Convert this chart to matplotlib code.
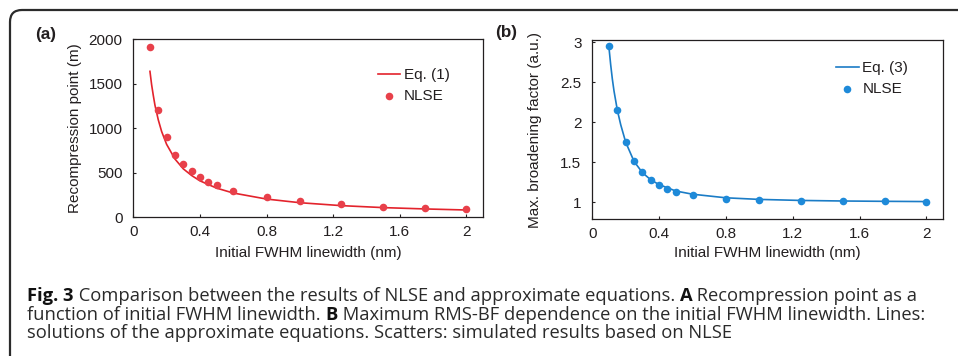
import matplotlib
matplotlib.use("Agg")
import matplotlib.pyplot as plt
from matplotlib.patches import FancyBboxPatch

# ---------------- data ----------------
linewidth_pts = [0.1, 0.15, 0.2, 0.25, 0.3, 0.35, 0.4, 0.45, 0.5, 0.6, 0.8, 1.0, 1.25, 1.5, 1.75, 2.0]
recomp_nlse = [1910, 1205, 905, 700, 600, 520, 452, 400, 365, 300, 225, 180, 145, 120, 102, 90]
bf_nlse = [2.95, 2.15, 1.75, 1.52, 1.38, 1.28, 1.21, 1.165, 1.125, 1.09, 1.045, 1.03, 1.016, 1.012, 1.01, 1.008]

linewidth_line = [0.1, 0.11, 0.12, 0.13, 0.15, 0.17, 0.2, 0.25, 0.3, 0.35, 0.4, 0.5, 0.6, 0.8, 1.0, 1.25, 1.5, 1.75, 2.0]
recomp_eq1 = [1640, 1490, 1370, 1260, 1095, 965, 820, 655, 545, 470, 410, 328, 273, 205, 164, 131, 109, 94, 82]
bf_eq3 = [2.93, 2.72, 2.54, 2.39, 2.15, 1.97, 1.75, 1.51, 1.37, 1.28, 1.22, 1.14, 1.10, 1.055, 1.035, 1.022, 1.015, 1.011, 1.008]

xticks = [0, 0.4, 0.8, 1.2, 1.6, 2]
xtick_labels = ["0", "0.4", "0.8", "1.2", "1.6", "2"]
yticks_a = [0, 500, 1000, 1500, 2000]
yticks_b = [1, 1.5, 2, 2.5, 3]
ytick_labels_b = ["1", "1.5", "2", "2.5", "3"]

caption_lines = [
    [("Fig. 3", True), (" Comparison between the results of NLSE and approximate equations. ", False),
     ("A", True), (" Recompression point as a", False)],
    [("function of initial FWHM linewidth. ", False), ("B", True),
     (" Maximum RMS-BF dependence on the initial FWHM linewidth. Lines:", False)],
    [("solutions of the approximate equations. Scatters: simulated results based on NLSE", False)],
]

# ---------------- style ----------------
W, H = 958, 356
DPI = 100
AX_FONT = "Liberation Sans"
FS = 11
RED_LINE = "#E3232C"
RED_PT = "#E8404A"
BLUE_LINE = "#1B7CC6"
BLUE_PT = "#1E8AD9"
TXT = "#231F20"

plt.rcParams["font.family"] = [AX_FONT, "DejaVu Sans"]

fig = plt.figure(figsize=(W / DPI, H / DPI), dpi=DPI)
fig.patch.set_facecolor("white")


def px_ax(l, r, t, b):
    return [l / W, 1 - b / H, (r - l) / W, (b - t) / H]


ax_a = fig.add_axes(px_ax(133.3, 483, 39.3, 217.3))
ax_b = fig.add_axes(px_ax(592.3, 943, 40, 219))


def style(ax):
    for s in ax.spines.values():
        s.set_linewidth(0.9)
        s.set_color("#231F20")
    ax.tick_params(direction="in", length=2.5, width=0.8, labelsize=FS, colors="#231F20",
                   top=False, right=False)
    ax.tick_params(axis="x", pad=5.5)
    ax.tick_params(axis="y", pad=7.8)
    ax.set_xlim(0, 2.1)
    ax.set_xticks(xticks)
    ax.set_xticklabels(xtick_labels)


LEG = dict(loc="upper left", frameon=False, fontsize=FS, borderpad=0, borderaxespad=0,
           handlelength=1.45, handletextpad=0.25, labelspacing=0.45, labelcolor=TXT)

# Panel a
style(ax_a)
ax_a.plot(linewidth_line, recomp_eq1, color=RED_LINE, lw=1.2, label="Eq. (1)")
ax_a.scatter(linewidth_pts, recomp_nlse, s=30, color=RED_PT, linewidths=0, label="NLSE", zorder=3)
ax_a.set_ylim(0, 2000)
ax_a.set_yticks(yticks_a)
ax_a.set_xlabel("Initial FWHM linewidth (nm)", fontsize=FS, color=TXT)
ax_a.set_ylabel("Recompression point (m)", fontsize=FS, color=TXT)
ax_a.yaxis.set_label_coords(-0.1666, 0.5)
ax_a.xaxis.set_label_coords(0.5, -0.2)
ax_a.xaxis.label.set_va("center")
ax_a.yaxis.label.set_va("center")
ax_a.legend(bbox_to_anchor=(0.699, 0.837), **LEG)

# Panel b
style(ax_b)
ax_b.plot(linewidth_line, bf_eq3, color=BLUE_LINE, lw=1.2, label="Eq. (3)")
ax_b.scatter(linewidth_pts, bf_nlse, s=30, color=BLUE_PT, linewidths=0, label="NLSE", zorder=3)
ax_b.set_ylim(0.79, 3.028)
ax_b.set_yticks(yticks_b)
ax_b.set_yticklabels(ytick_labels_b)
ax_b.set_xlabel("Initial FWHM linewidth (nm)", fontsize=FS, color=TXT)
ax_b.set_ylabel("Max. broadening factor (a.u.)", fontsize=FS, color=TXT)
ax_b.yaxis.set_label_coords(-0.163, 0.5)
ax_b.xaxis.set_label_coords(0.5, -0.19)
ax_b.xaxis.label.set_va("center")
ax_b.yaxis.label.set_va("center")
ax_b.legend(bbox_to_anchor=(0.696, 0.88), **LEG)

# panel labels
fig.text(46 / W, 1 - 34 / H, "(a)", fontsize=12.3, fontweight="bold", ha="center", va="center", color=TXT)
fig.text(506 / W, 1 - 33 / H, "(b)", fontsize=12.3, fontweight="bold", ha="center", va="center", color=TXT)

# rounded frame
frame = FancyBboxPatch((10, -40), 1000, 386, boxstyle="round,pad=0,rounding_size=12",
                       transform=None, fill=False, edgecolor="#2b2b2b", linewidth=1.6)
fig.patches.append(frame)

# caption
CAP_FONT = ["Open Sans", "DejaVu Sans"]
CAP_FS = 11.0
baselines = [301, 319.5, 338]
cap_texts = []
for line, base in zip(caption_lines, baselines):
    prev = None
    yf = 1 - base / H
    for txt, bold in line:
        kw = dict(fontsize=CAP_FS, family=CAP_FONT, fontweight="bold" if bold else "normal",
                  color="#111111" if bold else "#2a2a2a", va="baseline", ha="left")
        if prev is None:
            t = fig.text(27 / W, yf, txt, **kw)
        else:
            t = fig.add_artist(plt.Annotation(txt, xy=(1, yf), xycoords=(prev, "figure fraction"),
                                              annotation_clip=False, **kw))
        cap_texts.append(t)
        prev = t

# fit caption width: line 1 should end near x=917
fig.canvas.draw()
r = fig.canvas.get_renderer()
right = cap_texts[3].get_window_extent(r).x1
scale = (917 - 27) / (right - 27)
for t in cap_texts:
    t.set_fontsize(CAP_FS * scale)

fig.savefig("out.png", dpi=DPI)
